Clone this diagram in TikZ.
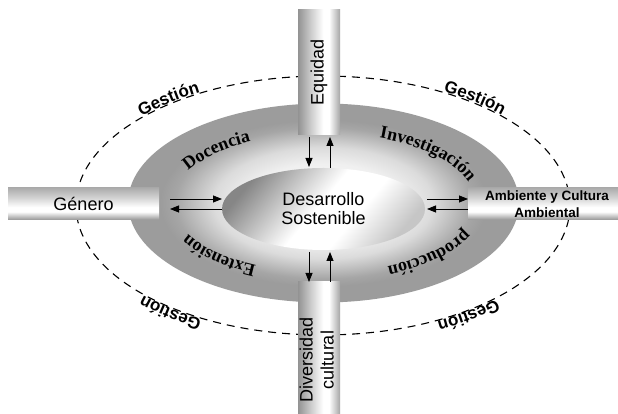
\documentclass[tikz,border=0pt]{standalone}
\usepackage{fontspec}
\setmainfont{Liberation Serif}
\newfontfamily\arialf{Liberation Sans}
\usetikzlibrary{shapes.geometric,arrows.meta,decorations.text}

\pgfdeclarehorizontalshading{vcyl}{100bp}{color(0bp)=(gray!85); color(25bp)=(gray!85); color(42bp)=(gray!35); color(55bp)=(white); color(62bp)=(white); color(75bp)=(gray!70); color(100bp)=(gray!70)}
\pgfdeclareverticalshading{hcyl}{100bp}{color(0bp)=(gray!85); color(25bp)=(gray!85); color(38bp)=(white); color(45bp)=(white); color(60bp)=(gray!35); color(75bp)=(gray!65); color(100bp)=(gray!65)}
\pgfdeclareradialshading{ringshade}{\pgfpoint{0bp}{0bp}}{color(0bp)=(white); color(10bp)=(gray!12); color(14bp)=(gray!28); color(19bp)=(gray!70); color(21bp)=(gray!78); color(50bp)=(gray!78)}
\pgfdeclareverticalshading{eggshade}{100bp}{color(0bp)=(gray!45); color(25bp)=(gray!45); color(40bp)=(white); color(52bp)=(white); color(75bp)=(gray!95); color(100bp)=(gray!95)}

\tikzset{
  vbar/.style={rectangle, shading=vcyl, minimum width=42pt, inner sep=0pt,
    font=\arialf\fontsize{18}{21}\selectfont},
  hbar/.style={rectangle, shading=hcyl, minimum height=32pt, inner sep=0pt,
    font=\arialf\fontsize{18}{21}\selectfont},
  flow/.style={-{Triangle[length=9pt,width=7pt]}, line width=0.8pt},
  gestline/.style={dash pattern=on 8pt off 6pt, line width=1.1pt},
  gest/.style={decorate, decoration={text along path, text align=center, raise=1pt,
    text={|\arialf\bfseries\fontsize{17}{17}\selectfont|#1}}},
  ringtxt/.style={decorate, decoration={text along path, text align=center,
    text={|\bfseries\fontsize{18}{18}\selectfont|#1}}}
}

\begin{document}
\begin{tikzpicture}[x=1pt,y=1pt]
\useasboundingbox (0,0) rectangle (618,414);
\clip (0,0) rectangle (618,414);
\fill[white] (0,0) rectangle (618,414);

% outer dashed ellipse
\coordinate (dc) at (323,208.5);
\draw[gestline] (dc) ellipse [x radius=247, y radius=129.5];

% gray ring ellipse
\coordinate (gc) at (323.5,211);
\node[ellipse, shading=ringshade, minimum width=391pt, minimum height=199pt, inner sep=0pt] (ring) at (gc) {};

% bars
\node[vbar, minimum height=125pt] (equidad) at (319,341.5) {\rotatebox{90}{Equidad}};
\node[vbar, minimum height=156pt] (divers) at (319,54) {\rotatebox{90}{\begin{tabular}{@{}c@{}}Diversidad\\cultural\end{tabular}}};
\node[hbar, minimum width=151pt] (genero) at (83.5,210) {Género};
\node[hbar, minimum width=158pt, align=center, font=\arialf\bfseries\fontsize{13.5}{17}\selectfont] (amb) at (547,210) {Ambiente y Cultura\\Ambiental};

% curved texts on ring
\path[ringtxt=Docencia] ([shift={(162.6:152 and 70)}]gc) arc[start angle=162.6, end angle=112.6, x radius=152, y radius=70];
\path[ringtxt=Investigación] ([shift={(71.5:152 and 70)}]gc) arc[start angle=71.5, end angle=11.5, x radius=152, y radius=70];
\path[ringtxt=Extensión] ([shift={(248.7:152 and 70)}]gc) arc[start angle=248.7, end angle=198.7, x radius=152, y radius=70];
\path[ringtxt=producción] ([shift={(344.9:152 and 70)}]gc) arc[start angle=344.9, end angle=290.9, x radius=152, y radius=70];

% Gestion labels
\path[gest=Gestión] ([shift={(149.8:247 and 129.5)}]dc) arc[start angle=149.8, end angle=109.8, x radius=247, y radius=129.5];
\path[gest=Gestión] ([shift={(70.9:247 and 129.5)}]dc) arc[start angle=70.9, end angle=30.9, x radius=247, y radius=129.5];
\path[gest=Gestión] ([shift={(250.7:247 and 129.5)}]dc) arc[start angle=250.7, end angle=210.7, x radius=247, y radius=129.5];
\path[gest=Gestión] ([shift={(327.2:247 and 129.5)}]dc) arc[start angle=327.2, end angle=287.2, x radius=247, y radius=129.5];

% centre
\node[ellipse, shading=eggshade, shading angle=50, minimum width=203pt, minimum height=82pt, inner sep=0pt, align=center, font=\arialf\fontsize{18}{19}\selectfont] (ds) at (323.5,205) {Desarrollo\\Sostenible};

% arrow end points
\coordinate (l1) at (170,215); \coordinate (l2) at (222,215);
\coordinate (l3) at (222,205); \coordinate (l4) at (170,205);
\coordinate (r1) at (427,215); \coordinate (r2) at (468,215);
\coordinate (r3) at (468,205); \coordinate (r4) at (427,205);
\coordinate (t1) at (309,277); \coordinate (t2) at (309,247);
\coordinate (t3) at (330,246); \coordinate (t4) at (330,277);
\coordinate (b1) at (309,162); \coordinate (b2) at (309,132);
\coordinate (b3) at (330,132); \coordinate (b4) at (330,162);

\draw[flow] (l1) -- (l2);
\draw[flow] (l3) -- (l4);
\draw[flow] (r1) -- (r2);
\draw[flow] (r3) -- (r4);
\draw[flow] (t1) -- (t2);
\draw[flow] (t3) -- (t4);
\draw[flow] (b1) -- (b2);
\draw[flow] (b3) -- (b4);
\end{tikzpicture}
\end{document}
